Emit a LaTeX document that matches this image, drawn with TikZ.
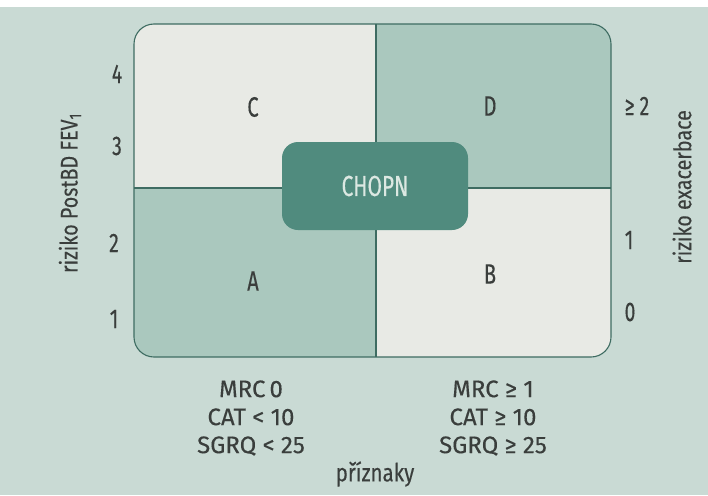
\documentclass[tikz,border=0pt]{standalone}
\usepackage{fontspec}
\setmainfont[FakeStretch=0.72,FakeBold=0.25]{Fira Sans}
\newfontfamily\critfont[FakeBold=0.25]{Fira Sans}
\newfontfamily\axisfont[FakeStretch=0.82,FakeBold=0.25]{Fira Sans}
\definecolor{bg}{RGB}{201,218,212}
\definecolor{lightcell}{RGB}{232,234,229}
\definecolor{midcell}{RGB}{170,200,190}
\definecolor{darkbox}{RGB}{80,139,126}
\definecolor{edge}{RGB}{62,108,98}
\definecolor{txt}{RGB}{58,62,60}
\definecolor{boxtxt}{RGB}{220,232,226}
\tikzset{
  num/.style={text=txt, font=\fontsize{27}{30}\selectfont, inner sep=0pt},
  axis/.style={text=txt, font=\axisfont\fontsize{24}{28}\selectfont, inner sep=0pt},
  quad/.style={text=txt, font=\fontsize{28}{30}\selectfont, inner sep=0pt},
  crit/.style={text=txt, font=\critfont\fontsize{24}{28}\selectfont, align=center, inner sep=0pt},
  border/.style={draw=edge, line width=1.1pt}
}
\begin{document}
\begin{tikzpicture}[x=1pt,y=-1pt]
\useasboundingbox (0,0) rectangle (708,495);
\fill[bg] (0,0) rectangle (708,495);
\fill[white] (0,0) rectangle (708,7);
% quadrants
\begin{scope}
\clip[rounded corners=20pt] (134,24) rectangle (611,357);
\fill[lightcell] (134,24) rectangle (376,188);
\fill[midcell] (376,24) rectangle (611,188);
\fill[midcell] (134,188) rectangle (376,357);
\fill[lightcell] (376,188) rectangle (611,357);
\end{scope}
\coordinate (top) at (376,24);
\coordinate (bot) at (376,357);
\coordinate (lft) at (134,188);
\coordinate (rgt) at (611,188);
\draw[border] (top) -- (bot);
\draw[border] (lft) -- (rgt);
\draw[border, rounded corners=20pt] (134,24) rectangle (611,357);
% center box
\node[fill=darkbox, rounded corners=16pt, minimum width=186pt, minimum height=88pt,
      text=boxtxt, font=\fontsize{29}{32}\selectfont] (chopn) at (375,186) {CHOPN};
% quadrant labels
\node[quad] (qc) at (253,107) {C};
\node[quad] (qd) at (490,106) {D};
\node[quad] (qa) at (253,281) {A};
\node[quad] (qb) at (490,274) {B};
% left scale
\node[num] (l4) at (117,74) {4};
\node[num] (l3) at (117,146) {3};
\node[num] (l2) at (114,243) {2};
\node[num] (l1) at (114,319) {1};
\node[axis, rotate=90] (ly) at (70,193) {riziko PostBD FEV\textsubscript{1}};
% right scale
\node[num] (r2) at (637,106) {≥ 2};
\node[num] (r1) at (629,240) {1};
\node[num] (r0) at (630,312) {0};
\node[axis, rotate=90] (ry) at (682,187) {riziko exacerbace};
% bottom criteria
\node[crit] (cl) at (251,418) {MRC\,0\\CAT < 10\\SGRQ < 25};
\node[crit] (cr) at (493,418) {MRC ≥ 1\\CAT ≥ 10\\SGRQ ≥ 25};
\node[axis, font=\axisfont\fontsize{25}{28}\selectfont] (px) at (375,474) {příznaky};
\end{tikzpicture}
\end{document}
